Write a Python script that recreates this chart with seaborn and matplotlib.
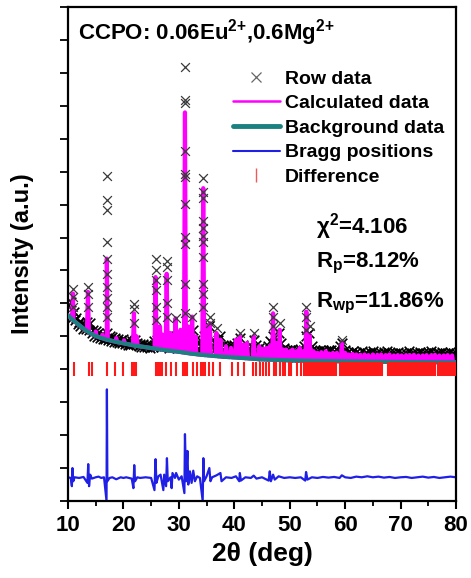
import numpy as np
import pandas as pd
import matplotlib
matplotlib.use("Agg")
import matplotlib.pyplot as plt
import seaborn as sns
from matplotlib.lines import Line2D

sns.set_style("ticks")
plt.rcParams["font.family"] = ["Liberation Sans", "DejaVu Sans"]
plt.rcParams["font.weight"] = "bold"
plt.rcParams["text.color"] = "black"
plt.rcParams["axes.labelcolor"] = "black"
plt.rcParams["axes.edgecolor"] = "black"
plt.rcParams["xtick.color"] = "black"
plt.rcParams["ytick.color"] = "black"
plt.rcParams["mathtext.fontset"] = "custom"
plt.rcParams["mathtext.rm"] = "Liberation Sans:bold"
plt.rcParams["mathtext.it"] = "Liberation Sans:bold"
plt.rcParams["mathtext.bf"] = "Liberation Sans:bold"
plt.rcParams["mathtext.sf"] = "Liberation Sans:bold"

# ---------------- data (arbitrary intensity units) ----------------
bg_x = [10, 11, 12, 13, 14, 15, 16, 17, 18, 19, 20, 22, 24, 26, 28, 30, 32, 34, 36, 38, 40,
        45, 50, 55, 60, 70, 80]
bg_y = [5.64, 5.48, 5.34, 5.21, 5.10, 5.01, 4.95, 4.90, 4.86, 4.82, 4.79, 4.72, 4.67, 4.62,
        4.57, 4.53, 4.48, 4.44, 4.41, 4.38, 4.36, 4.30, 4.27, 4.25, 4.24, 4.22, 4.21]

# calculated profile: peak positions and peak tops
calc_pos = [10.9, 13.6, 15.0, 16.2, 17.0, 18.7, 20.1, 21.9, 22.4, 25.8, 26.6, 27.1, 27.8,
            28.5, 29.4, 30.3, 31.1, 31.7, 32.4, 33.0, 34.4, 35.0, 35.6, 36.8, 37.5, 38.5,
            39.4, 40.3, 41.0, 41.7, 42.3, 43.5, 44.5, 45.2, 45.8, 46.4, 47.0, 47.6, 48.2,
            48.8, 49.3, 50.0, 50.5, 51.2, 51.8, 52.4, 53.0, 53.6, 54.3, 55.0, 55.7, 56.5,
            57.1, 57.8, 58.5, 59.4, 60.0, 60.6, 61.3, 62.0, 62.7, 63.5, 64.2, 65.0, 65.8,
            66.5, 67.3, 68.0, 68.8, 69.5, 70.2, 71.0, 71.7, 72.4, 73.2, 74.0, 74.7, 75.5,
            76.2, 77.0, 77.8, 78.5, 79.3]
calc_top = [6.30, 6.35, 5.15, 5.05, 7.36, 4.95, 4.88, 5.70, 5.00, 6.80, 5.30, 5.05, 6.90,
            5.10, 5.55, 5.20, 11.80, 5.30, 5.60, 5.00, 9.50, 5.30, 5.40, 5.10, 4.90, 4.70,
            4.65, 4.90, 5.00, 4.75, 4.80, 5.00, 4.70, 4.62, 4.65, 4.70, 5.70, 4.80, 5.20,
            4.60, 4.60, 4.55, 4.60, 4.55, 4.65, 4.55, 5.75, 5.05, 4.55, 4.50, 4.52, 4.55,
            4.48, 4.50, 4.50, 4.80, 4.50, 4.45, 4.47, 4.45, 4.44, 4.45, 4.43, 4.45, 4.44,
            4.45, 4.43, 4.45, 4.42, 4.43, 4.42, 4.43, 4.42, 4.44, 4.42, 4.42, 4.43, 4.42,
            4.44, 4.42, 4.42, 4.43, 4.42]

# observed data ("Row data"): upper part of the noisy band
obs_x = [10.0, 10.5, 11.0, 11.5, 12.0, 12.5, 13.0, 13.5, 14.0, 14.5, 15.0, 15.5, 16.0, 16.5,
         17.0, 17.5, 18.0, 18.5, 19.0, 19.5, 20.0, 20.5, 21.0, 21.5, 22.0, 22.5, 23.0, 23.5,
         24.0, 24.5, 25.0, 25.5, 26.0, 26.5, 27.0, 27.5, 28.0, 28.5, 29.0, 29.5, 30.0, 30.5,
         31.0, 31.5, 32.0, 32.5, 33.0, 33.5, 34.0, 34.5, 35.0, 35.5, 36.0, 36.5, 37.0, 37.5,
         38.0, 38.5, 39.0, 39.5, 40.0, 40.5, 41.0, 41.5, 42.0, 42.5, 43.0, 43.5, 44.0, 44.5,
         45.0, 45.5, 46.0, 46.5, 47.0, 47.5, 48.0, 48.5, 49.0, 49.5, 50.0, 50.5, 51.0, 51.5,
         52.0, 52.5, 53.0, 53.5, 54.0, 54.5, 55.0, 55.5, 56.0, 56.5, 57.0, 57.5, 58.0, 58.5,
         59.0, 59.5, 60.0, 60.5, 61.0, 61.5, 62.0, 62.5, 63.0, 63.5, 64.0, 64.5, 65.0, 65.5,
         66.0, 66.5, 67.0, 67.5, 68.0, 68.5, 69.0, 69.5, 70.0, 70.5, 71.0, 71.5, 72.0, 72.5,
         73.0, 73.5, 74.0, 74.5, 75.0, 75.5, 76.0, 76.5, 77.0, 77.5, 78.0, 78.5, 79.0, 79.5,
         80.0]
obs_y = [5.95, 6.05, 5.75, 5.55, 5.45, 5.40, 5.35, 5.45, 5.40, 5.20, 5.15, 5.10, 5.05, 5.05,
         5.10, 5.00, 4.98, 4.95, 4.92, 4.90, 4.92, 4.85, 4.83, 4.85, 4.90, 4.80, 4.78, 4.77,
         4.75, 4.74, 4.75, 4.85, 4.90, 4.85, 4.80, 4.85, 4.85, 4.80, 4.90, 5.00, 4.85, 4.90,
         5.00, 5.10, 5.00, 5.20, 4.90, 4.80, 4.85, 5.00, 5.10, 5.30, 4.90, 4.80, 4.90, 5.00,
         4.75, 4.70, 4.72, 4.70, 4.75, 4.80, 4.95, 4.75, 4.65, 4.62, 4.70, 4.90, 4.75, 4.65,
         4.60, 4.62, 4.70, 4.85, 5.00, 4.90, 5.10, 4.80, 4.65, 4.60, 4.58, 4.62, 4.60, 4.58,
         4.60, 4.70, 5.00, 5.10, 4.70, 4.60, 4.55, 4.57, 4.60, 4.55, 4.58, 4.60, 4.55, 4.60,
         4.70, 4.80, 4.60, 4.52, 4.50, 4.55, 4.52, 4.50, 4.55, 4.50, 4.48, 4.52, 4.55, 4.50,
         4.48, 4.50, 4.52, 4.55, 4.50, 4.48, 4.50, 4.52, 4.50, 4.47, 4.50, 4.55, 4.50, 4.48,
         4.50, 4.52, 4.48, 4.50, 4.52, 4.55, 4.50, 4.48, 4.50, 4.52, 4.48, 4.50, 4.52, 4.50,
         4.48]

# observed data: lower part of the noisy band
obs_low_x = [10.25, 10.75, 11.25, 11.75, 12.25, 12.75, 13.25, 13.75, 14.25, 14.75, 15.25,
             15.75, 16.25, 16.75, 17.25, 17.75, 18.25, 18.75, 19.25, 19.75, 20.25, 20.75,
             21.25, 21.75, 22.25, 22.75, 23.25, 23.75, 24.25, 24.75, 25.25, 25.75, 26.25,
             26.75, 27.25, 27.75, 28.25, 28.75, 29.25, 29.75, 30.25, 30.75, 31.25, 31.75,
             32.25, 32.75, 33.25, 33.75, 34.25, 34.75, 35.25, 35.75, 36.25, 36.75, 37.25,
             37.75, 38.25, 38.75, 39.25, 39.75, 40.25, 40.75, 41.25, 41.75, 42.25, 42.75,
             43.25, 43.75, 44.25, 44.75, 45.25, 45.75, 46.25, 46.75, 47.25, 47.75, 48.25,
             48.75, 49.25, 49.75, 50.25, 50.75, 51.25, 51.75, 52.25, 52.75, 53.25, 53.75,
             54.25, 54.75, 55.25, 55.75, 56.25, 56.75, 57.25, 57.75, 58.25, 58.75, 59.25,
             59.75, 60.25, 60.75, 61.25, 61.75, 62.25, 62.75, 63.25, 63.75, 64.25, 64.75,
             65.25, 65.75, 66.25, 66.75, 67.25, 67.75, 68.25, 68.75, 69.25, 69.75, 70.25,
             70.75, 71.25, 71.75, 72.25, 72.75, 73.25, 73.75, 74.25, 74.75, 75.25, 75.75,
             76.25, 76.75, 77.25, 77.75, 78.25, 78.75, 79.25, 79.75]
obs_low_y = [5.65, 5.55, 5.50, 5.38, 5.30, 5.22, 5.22, 5.20, 5.10, 5.02, 4.98, 4.95, 4.93,
             4.92, 4.90, 4.86, 4.84, 4.82, 4.80, 4.80, 4.77, 4.75, 4.74, 4.76, 4.78, 4.70,
             4.69, 4.68, 4.67, 4.66, 4.68, 4.75, 4.72, 4.68, 4.70, 4.72, 4.65, 4.68, 4.70,
             4.65, 4.70, 4.68, 4.80, 4.75, 4.85, 4.75, 4.62, 4.60, 4.70, 4.75, 4.80, 4.70,
             4.60, 4.65, 4.70, 4.60, 4.52, 4.50, 4.50, 4.50, 4.55, 4.60, 4.58, 4.48, 4.45,
             4.47, 4.55, 4.55, 4.45, 4.42, 4.40, 4.45, 4.50, 4.55, 4.60, 4.55, 4.60, 4.45,
             4.40, 4.38, 4.40, 4.38, 4.40, 4.38, 4.42, 4.50, 4.60, 4.55, 4.42, 4.38, 4.36,
             4.38, 4.37, 4.36, 4.38, 4.37, 4.36, 4.40, 4.48, 4.45, 4.36, 4.34, 4.35, 4.36,
             4.34, 4.33, 4.35, 4.34, 4.33, 4.35, 4.34, 4.33, 4.34, 4.35, 4.33, 4.34, 4.33,
             4.32, 4.34, 4.33, 4.32, 4.33, 4.34, 4.33, 4.32, 4.33, 4.34, 4.32, 4.33, 4.34,
             4.32, 4.33, 4.32, 4.33, 4.34, 4.32, 4.33, 4.32, 4.33, 4.32]

# observed data: points on the Bragg peaks
obs_pk_x = [10.9, 10.9, 10.9, 13.6, 13.6, 13.6,
            17.0, 17.0, 17.0, 17.0, 17.0, 17.0, 17.0, 17.0, 17.0, 17.0,
            21.9, 21.9, 21.9,
            25.8, 25.8, 25.8, 25.8, 25.8, 25.8,
            27.8, 27.8, 27.8, 27.8, 27.8,
            29.4, 31.1, 31.1, 31.1, 31.1, 31.1, 31.1, 31.1, 31.1, 31.1, 31.1, 31.1,
            32.3, 34.4, 34.4, 34.4, 34.4, 34.4, 34.4, 34.4, 34.4, 34.4, 34.4, 34.4,
            35.6, 35.6, 36.8, 41.0, 43.5, 47.0, 47.0, 47.0, 48.2, 53.0, 53.0, 53.0, 53.6, 59.4]
obs_pk_y = [6.44, 6.20, 5.90, 6.50, 6.30, 5.90,
            9.88, 9.14, 8.84, 7.86, 7.36, 6.90, 6.50, 6.15, 5.89, 5.59,
            5.99, 5.84, 5.40,
            7.36, 7.00, 6.70, 6.40, 5.90, 5.50,
            7.30, 7.10, 6.70, 6.00, 5.60,
            5.55, 13.18, 12.17, 12.10, 10.64, 9.93, 9.83, 9.03, 8.01, 7.80, 6.60, 5.70,
            5.60, 9.80, 9.37, 9.20, 8.50, 8.30, 8.06, 7.86, 7.40, 6.60, 6.30, 5.90,
            5.60, 5.40, 5.25, 5.10, 5.10, 5.90, 5.60, 5.30, 5.40, 5.90, 5.60, 5.20, 5.30, 4.90]

# blue curve (labelled "Bragg positions" in the original legend)
diff_x = [10.0, 10.5, 10.7, 10.8, 10.95, 11.2, 12.0, 12.8, 13.5, 13.65, 13.8, 14.0, 14.3, 15.0,
          15.5, 16.0, 16.5, 16.95, 17.02, 17.1, 17.5, 18.0, 18.7, 19.5, 20.0, 20.5, 21.5, 21.8,
          21.95, 22.1, 22.5, 23.0, 24.0, 25.0, 25.6, 25.8, 25.95, 26.3, 26.7, 27.2, 27.35, 27.7,
          27.85, 28.0, 28.5, 28.7, 28.85, 29.3, 29.5, 30.0, 30.5, 31.0, 31.1, 31.3, 31.55, 31.7,
          32.0, 32.3, 32.6, 32.9, 33.3, 33.8, 34.3, 34.42, 34.55, 35.0, 35.5, 35.7, 36.0, 36.8,
          37.5, 37.7, 38.5, 39.5, 40.3, 40.9, 41.0, 41.2, 42.0, 43.0, 43.5, 44.0, 45.0, 46.2,
          46.4, 46.6, 47.0, 47.3, 48.0, 49.0, 50.0, 51.0, 52.0, 52.8, 52.95, 53.2, 54.0, 55.0,
          56.0, 57.0, 58.0, 59.0, 59.4, 60.0, 61.0, 62.0, 63.0, 64.0, 65.0, 66.0, 67.0, 68.0,
          69.0, 70.0, 71.0, 72.0, 73.0, 74.0, 75.0, 76.0, 77.0, 78.0, 79.0, 80.0]
diff_y = [0.72, 0.70, 0.45, 1.00, 0.60, 0.72, 0.70, 0.73, 0.55, 1.12, 0.45, 0.80, 0.68, 0.72,
          0.74, 0.70, 0.72, 0.00, 3.39, 0.60, 0.70, 0.72, 0.66, 0.72, 0.70, 0.72, 0.68, 0.39,
          1.09, 0.60, 0.72, 0.70, 0.72, 0.70, 0.33, 1.27, 0.55, 0.75, 0.80, 0.33, 0.80, 0.45,
          1.30, 0.60, 0.72, 0.39, 0.85, 0.70, 0.85, 0.65, 0.75, 0.24, 2.03, 0.60, 1.52, 0.50,
          0.90, 0.55, 0.92, 0.60, 0.75, 0.70, 0.00, 1.30, 0.60, 0.75, 1.00, 0.60, 0.72, 0.78,
          0.85, 0.60, 0.72, 0.70, 0.75, 0.60, 0.85, 0.62, 0.72, 0.70, 0.77, 0.68, 0.72, 0.62,
          0.90, 0.60, 0.80, 0.65, 0.75, 0.70, 0.72, 0.70, 0.72, 0.62, 0.88, 0.65, 0.72, 0.70,
          0.73, 0.71, 0.73, 0.70, 0.78, 0.72, 0.70, 0.74, 0.72, 0.75, 0.72, 0.74, 0.71, 0.73,
          0.70, 0.72, 0.73, 0.70, 0.72, 0.74, 0.71, 0.73, 0.70, 0.72, 0.74, 0.72]

# red tick marks (labelled "Difference" in the original legend)
tick_pos = [11.0, 13.7, 14.3, 17.0, 18.5, 20.0, 21.5, 21.9, 22.3, 25.9, 26.2, 26.6, 27.0,
            27.7, 28.6, 29.4, 30.7, 31.1, 31.4, 32.5, 33.2, 34.0, 34.4, 34.7, 35.4, 36.2,
            37.4, 39.5, 40.7, 41.8, 43.4, 43.9, 44.6, 45.2, 45.7, 46.3, 47.1, 47.5, 48.3,
            48.7, 49.2, 49.9, 50.3, 51.3, 52.0, 52.6,
            52.9, 53.15, 53.4, 53.65, 53.9, 54.15, 54.4, 54.65, 54.9, 55.15, 55.4, 55.65,
            55.9, 56.15, 56.4, 56.65, 56.9, 57.15, 57.4, 57.65, 57.9, 58.15, 58.4,
            59.1, 59.35, 59.6, 59.85, 60.1, 60.35, 60.6, 60.85, 61.1, 61.35, 61.6, 61.85,
            62.1, 62.35, 62.6, 62.85, 63.1, 63.35, 63.6, 63.85, 64.1, 64.35, 64.6, 64.85,
            65.1, 65.35, 65.6, 65.85, 66.1, 66.35, 66.6,
            67.8, 68.05, 68.3, 68.55, 68.8, 69.05, 69.3, 69.55, 69.8, 70.05, 70.3, 70.55,
            70.8, 71.05, 71.3, 71.55, 71.8, 72.05, 72.3, 72.55, 72.8, 73.05, 73.3, 73.55,
            73.8, 74.05, 74.3, 74.55, 74.8, 75.05, 75.3, 75.55, 75.8, 76.05, 76.3,
            76.7, 76.95, 77.2, 77.45, 77.7, 77.95, 78.2, 78.45, 78.7, 78.95, 79.2, 79.45, 79.75]
TICK_ROW = 4.0

labels = ["Row data", "Calculated data", "Background data", "Bragg positions", "Difference"]
title = "CCPO: 0.06Eu$^{2{+}}$,0.6Mg$^{2{+}}$"
stats = ["χ$^{2}$=4.106", "R$_{p}$=8.12%", "R$_{wp}$=11.86%"]

# ---------------- build tables ----------------
bg_df = pd.DataFrame({"x": bg_x, "y": bg_y})
hw = 0.18
pts = list(zip(bg_x, bg_y))
for p, t in zip(calc_pos, calc_top):
    b0 = float(np.interp(p - hw, bg_x, bg_y))
    b1 = float(np.interp(p + hw, bg_x, bg_y))
    pts += [(p - hw, b0), (p, t), (p + hw, b1)]
pts.sort(key=lambda q: q[0])
calc_df = pd.DataFrame(pts, columns=["x", "y"])
band_df = pd.DataFrame({"x": obs_x + obs_low_x, "y": obs_y + obs_low_y})
peak_df = pd.DataFrame({"x": obs_pk_x, "y": obs_pk_y})
diff_df = pd.DataFrame({"x": diff_x, "y": diff_y})
tick_df = pd.DataFrame({"x": tick_pos, "y": [TICK_ROW] * len(tick_pos)})

# ---------------- figure ----------------
W, H = 471, 578
fig = plt.figure(figsize=(W / 100, H / 100), dpi=100)
ax = fig.add_axes([68 / W, 1 - 501 / H, 388 / W, 494 / H])

MAG = "#ff00ff"
TEAL = "#1b8080"
BLUE = "#1f1fe6"
RED = "#ff1a1a"
GREY = "#3a3a3a"

sns.scatterplot(data=band_df, x="x", y="y", ax=ax, marker="x", s=48, color="black",
                linewidth=1.2, zorder=3)
sns.lineplot(data=calc_df, x="x", y="y", ax=ax, color=MAG, lw=3.0, sort=False,
             estimator=None, zorder=3.5)
sns.scatterplot(data=peak_df, x="x", y="y", ax=ax, marker="x", s=40, color=GREY,
                linewidth=0.9, zorder=4)
sns.lineplot(data=bg_df, x="x", y="y", ax=ax, color=TEAL, lw=3.0, sort=False,
             estimator=None, zorder=4.5)
sns.lineplot(data=diff_df, x="x", y="y", ax=ax, color=BLUE, lw=1.6, sort=False,
             estimator=None, zorder=2)
sns.scatterplot(data=tick_df, x="x", y="y", ax=ax, marker="|", s=100, color=RED,
                linewidth=1.5, zorder=4.5)

ax.set_xlim(10, 80)
ax.set_ylim(0, 15)
ax.set_xticks(range(10, 81, 10))
ax.set_xticks(range(15, 80, 10), minor=True)
ax.set_yticks(range(0, 16))
ax.tick_params(axis="x", which="major", direction="out", length=6, width=1.5,
               labelsize=16, pad=4, top=False)
ax.tick_params(axis="x", which="minor", direction="out", length=3.5, width=1.3, top=False)
ax.tick_params(axis="y", which="major", direction="out", length=6, width=1.3,
               labelleft=False, right=False)
for s in ax.spines.values():
    s.set_linewidth(1.6)
    s.set_visible(True)
    s.set_color("black")

ax.set_xlabel("2θ (deg)", fontsize=19, fontweight="bold")
ax.set_ylabel("Intensity (a.u.)", fontsize=17, fontweight="bold")
ax.xaxis.set_label_coords(0.5, -0.082)
ax.yaxis.set_label_coords(-0.088, 0.5)

fig.text(78 / W, 1 - 40 / H, title, fontsize=16, fontweight="bold", ha="left", va="baseline")
fig.text(316 / W, 1 - 234 / H, stats[0], fontsize=16, fontweight="bold", ha="left", va="baseline")
fig.text(316 / W, 1 - 267 / H, stats[1], fontsize=16, fontweight="bold", ha="left", va="baseline")
fig.text(316 / W, 1 - 307 / H, stats[2], fontsize=16, fontweight="bold", ha="left", va="baseline")

handles = [
    Line2D([], [], ls="none", marker="x", color="#666666", ms=7, mew=0.9),
    Line2D([], [], color=MAG, lw=1.8),
    Line2D([], [], color=TEAL, lw=3.5),
    Line2D([], [], color=BLUE, lw=1.5),
    Line2D([], [], ls="none", marker="|", color="#ee5a5a", ms=10, mew=1.0),
]
ax.legend(handles, labels, loc="upper left", bbox_to_anchor=(233 / W, 1 - 70 / H),
          bbox_transform=fig.transFigure, frameon=False,
          prop={"size": 14, "weight": "bold"}, handlelength=2.4, handletextpad=0.25,
          labelspacing=0.36, borderpad=0, borderaxespad=0)

fig.savefig("out.png", dpi=100)
